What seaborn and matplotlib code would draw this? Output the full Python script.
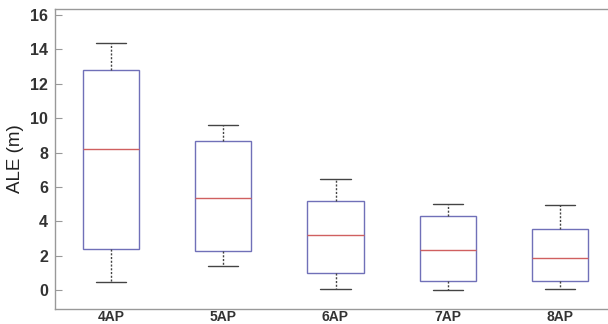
import numpy as np
import matplotlib
matplotlib.use("Agg")
import matplotlib.pyplot as plt
import seaborn as sns
import pandas as pd

# five-number summaries (ALE in metres)
groups = ["4AP", "5AP", "6AP", "7AP", "8AP"]
whisker_low = [0.48, 1.40, 0.08, 0.02, 0.08]
q1 = [2.38, 2.29, 0.97, 0.52, 0.54]
median = [8.22, 5.37, 3.18, 2.34, 1.86]
q3 = [12.78, 8.67, 5.20, 4.32, 3.53]
whisker_high = [14.40, 9.60, 6.44, 5.00, 4.94]

rows = []
for i, g in enumerate(groups):
    for v in [whisker_low[i], q1[i], median[i], q3[i], whisker_high[i]]:
        rows.append({"grp": g, "ALE": v})
df = pd.DataFrame(rows)

sns.set_style("white")
plt.rcParams['font.family'] = ['Liberation Sans', 'DejaVu Sans']

fig = plt.figure(figsize=(6.08, 3.24), dpi=100)
ax = fig.add_axes([55 / 608, 15 / 324, 561 / 608, 300 / 324])

box_col = "#7070b8"
sns.boxplot(data=df, x="grp", y="ALE", order=groups, width=0.5, whis=(0, 100),
            color="white", linecolor=box_col, linewidth=1.0, ax=ax,
            boxprops=dict(facecolor="white", edgecolor=box_col, linewidth=1.0),
            medianprops=dict(color="#d06060", linewidth=1.0),
            whiskerprops=dict(color="#444444", linestyle=(0, (1.5, 1.2)), linewidth=1.0),
            capprops=dict(color="#444444", linewidth=1.0),
            capwidths=0.27, showfliers=False)

ax.set_xlim(-0.5, 4.5)
ax.set_ylim(-1.1, 16.35)
ax.set_yticks(np.arange(0, 17, 2))
ax.set_xlabel("")
ax.set_ylabel("ALE (m)", fontsize=13.5, color="#222222", labelpad=4)

for s in ax.spines.values():
    s.set_color("#999999")
    s.set_linewidth(1.0)
    s.set_visible(True)

ax.tick_params(axis="y", direction="in", length=5, color="#999999",
               labelsize=11.5, labelcolor="#333333", pad=5, right=True, left=True)
ax.tick_params(axis="x", length=0, labelsize=10, labelcolor="#333333", pad=1)
for lab in ax.get_xticklabels() + ax.get_yticklabels():
    lab.set_fontweight("bold")

fig.savefig("out.png", dpi=100)
